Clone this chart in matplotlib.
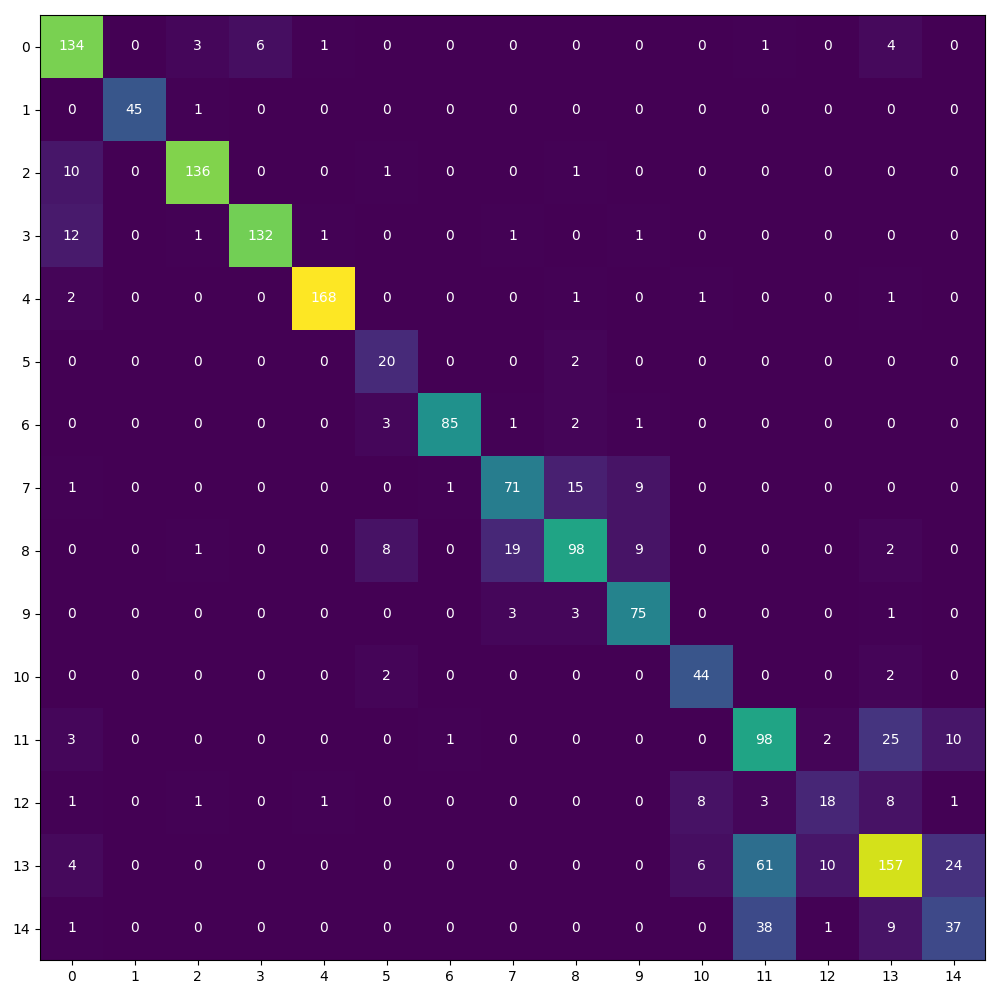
import numpy as np
import matplotlib
matplotlib.use("Agg")
import matplotlib.pyplot as plt

# class labels and confusion matrix counts
labels = list(range(15))
counts = [
    [134, 0, 3, 6, 1, 0, 0, 0, 0, 0, 0, 1, 0, 4, 0],
    [0, 45, 1, 0, 0, 0, 0, 0, 0, 0, 0, 0, 0, 0, 0],
    [10, 0, 136, 0, 0, 1, 0, 0, 1, 0, 0, 0, 0, 0, 0],
    [12, 0, 1, 132, 1, 0, 0, 1, 0, 1, 0, 0, 0, 0, 0],
    [2, 0, 0, 0, 168, 0, 0, 0, 1, 0, 1, 0, 0, 1, 0],
    [0, 0, 0, 0, 0, 20, 0, 0, 2, 0, 0, 0, 0, 0, 0],
    [0, 0, 0, 0, 0, 3, 85, 1, 2, 1, 0, 0, 0, 0, 0],
    [1, 0, 0, 0, 0, 0, 1, 71, 15, 9, 0, 0, 0, 0, 0],
    [0, 0, 1, 0, 0, 8, 0, 19, 98, 9, 0, 0, 0, 2, 0],
    [0, 0, 0, 0, 0, 0, 0, 3, 3, 75, 0, 0, 0, 1, 0],
    [0, 0, 0, 0, 0, 2, 0, 0, 0, 0, 44, 0, 0, 2, 0],
    [3, 0, 0, 0, 0, 0, 1, 0, 0, 0, 0, 98, 2, 25, 10],
    [1, 0, 1, 0, 1, 0, 0, 0, 0, 0, 8, 3, 18, 8, 1],
    [4, 0, 0, 0, 0, 0, 0, 0, 0, 0, 6, 61, 10, 157, 24],
    [1, 0, 0, 0, 0, 0, 0, 0, 0, 0, 0, 38, 1, 9, 37],
]


def main():
    cm = np.array(counts)
    fig, ax = plt.subplots(figsize=(10, 10), dpi=100)
    fig.subplots_adjust(left=0.04, right=0.985, top=0.985, bottom=0.04)

    ax.imshow(cm, cmap="viridis")

    ax.set_xticks(range(len(labels)))
    ax.set_yticks(range(len(labels)))
    ax.set_xticklabels(labels)
    ax.set_yticklabels(labels)

    # annotate every cell
    for i in range(cm.shape[0]):
        for j in range(cm.shape[1]):
            ax.text(j, i, str(cm[i, j]), ha="center", va="center", color="white")

    fig.savefig("out.png")


if __name__ == '__main__':
    main()
